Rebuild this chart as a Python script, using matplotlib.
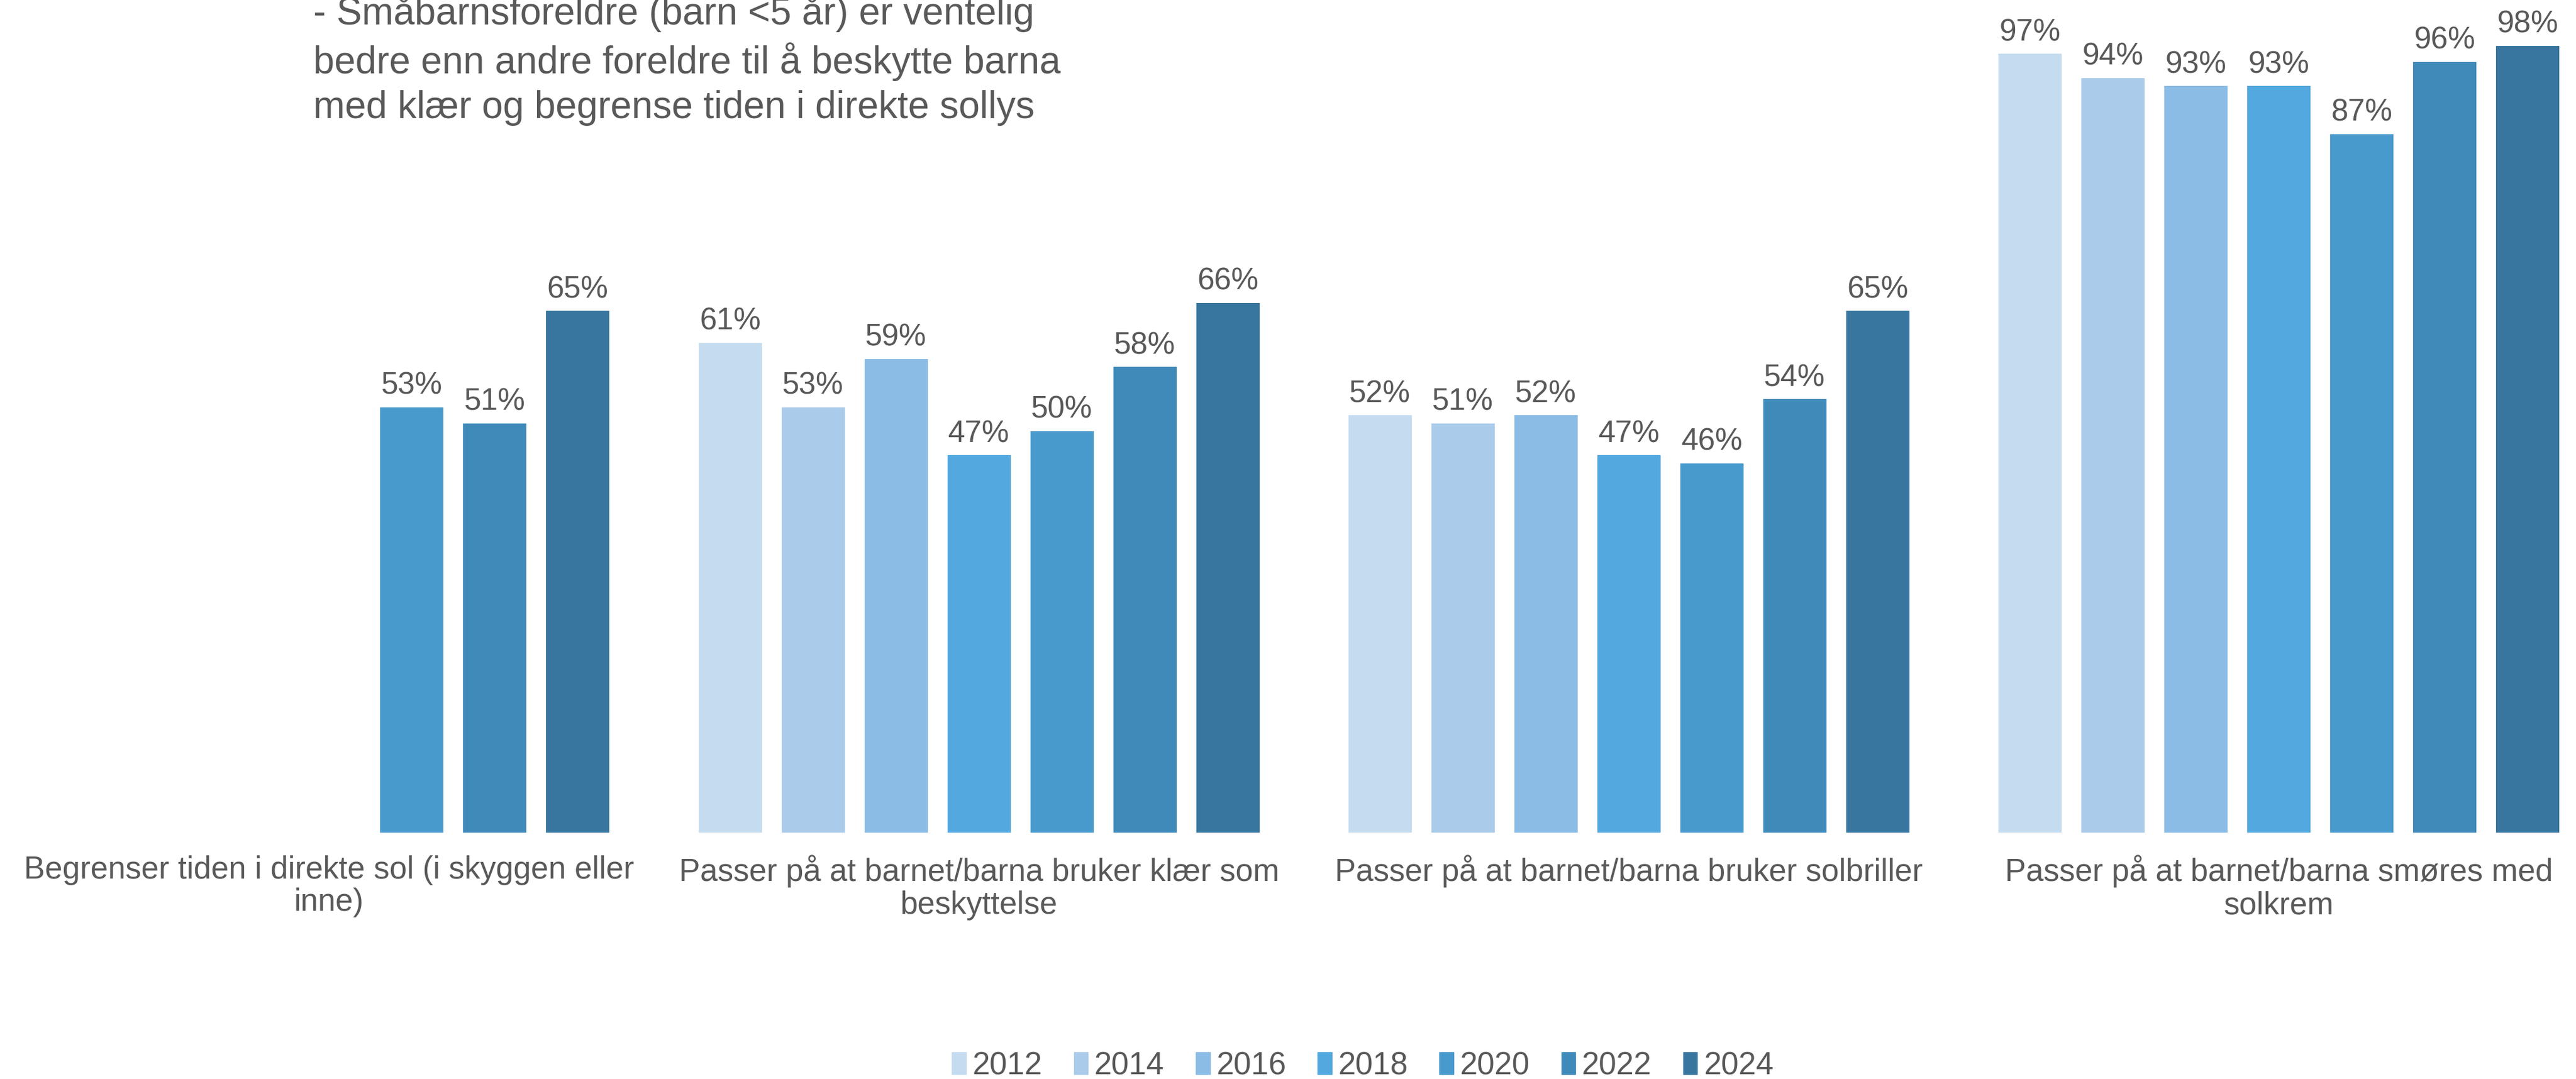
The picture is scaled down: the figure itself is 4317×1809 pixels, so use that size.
import matplotlib
matplotlib.use('agg')
import matplotlib.pyplot as plt
import matplotlib.patches as mpatches
import numpy as np

# data
categories = [
    'Begrenser tiden i direkte sol (i skyggen eller\ninne)',
    'Passer på at barnet/barna bruker klær som\nbeskyttelse',
    'Passer på at barnet/barna bruker solbriller',
    'Passer på at barnet/barna smøres med\nsolkrem',
]
years = ['2012', '2014', '2016', '2018', '2020', '2022', '2024']
v2012 = [np.nan, 61, 52, 97]
v2014 = [np.nan, 53, 51, 94]
v2016 = [np.nan, 59, 52, 93]
v2018 = [np.nan, 47, 47, 93]
v2020 = [53, 50, 46, 87]
v2022 = [51, 58, 54, 96]
v2024 = [65, 66, 65, 98]
series = [v2012, v2014, v2016, v2018, v2020, v2022, v2024]
colors = ['#C5DCF0', '#AACBEA', '#8ABCE5', '#53A9DF', '#499ACC', '#408ABA', '#38769F']
title = ('- Småbarnsforeldre (barn <5 år) er ventelig\n'
         'bedre enn andre foreldre til å beskytte barna\n'
         'med klær og begrense tiden i direkte sollys')

TXT = '#595959'
plt.rcParams['font.family'] = ['Liberation Sans', 'DejaVu Sans']

fig = plt.figure(figsize=(43.17, 18.09), dpi=100)
ax = fig.add_axes([0, 0.2283, 1, 0.744])

step = 0.1276
width = 0.0973
x = np.arange(len(categories))
for i, (vals, col) in enumerate(zip(series, colors)):
    pos = x + (i - 3) * step
    vals = np.array(vals, dtype=float)
    bars = ax.bar(pos, vals, width=width, color=col, label=years[i])
    for b, v in zip(bars, vals):
        if np.isnan(v):
            continue
        ax.annotate('{:d}%'.format(int(v)), (b.get_x() + b.get_width() / 2, v),
                    xytext=(0, 8), textcoords='offset points',
                    ha='center', va='bottom', fontsize=37, color=TXT)

ax.set_xlim(-0.506, 3.457)
ax.set_ylim(0, 100)
ax.set_xticks(x)
ax.set_xticklabels(categories, fontsize=38, color=TXT, linespacing=1.12)
ax.tick_params(axis='x', length=0, pad=27)
ax.set_yticks([])
for s in ax.spines.values():
    s.set_visible(False)

# title block, last line baseline placed where the reference has it
fig.text(0.1216, 1 - 198 / 1809, title, ha='left', va='baseline', fontsize=45.8,
         color=TXT, linespacing=1.32)

handles = [mpatches.Patch(color=c, label=y) for c, y in zip(colors, years)]
fig.legend(handles=handles, loc='center', bbox_to_anchor=(0.529, 0.012),
           ncol=7, frameon=False, fontsize=38, labelcolor=TXT,
           handlelength=0.45, handleheight=0.7, handletextpad=0.2,
           columnspacing=1.0)

fig.savefig('out.png', dpi=100)
